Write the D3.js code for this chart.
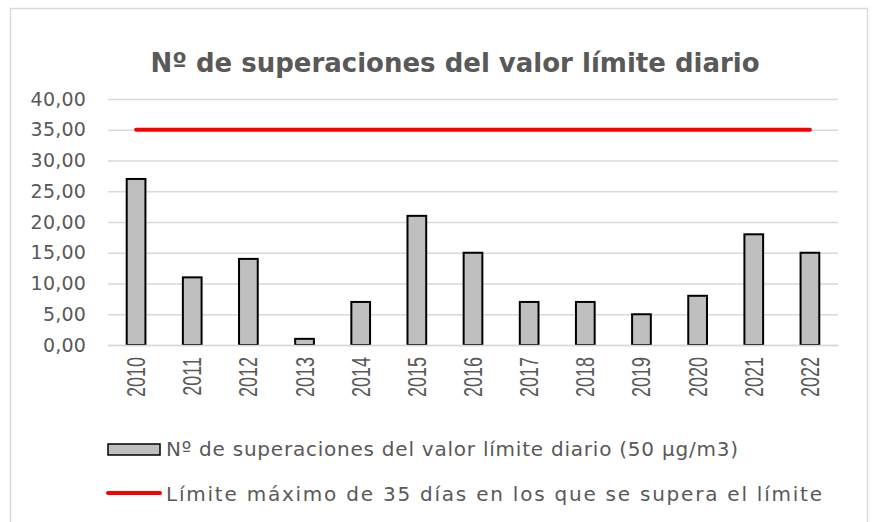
<!DOCTYPE html>
<html>
<head>
<meta charset="utf-8">
<script src="https://cdn.jsdelivr.net/npm/d3@7"></script>
<style>
  body { margin: 0; background: #fff; }
  svg { display: block; }
</style>
</head>
<body>
<svg width="872" height="522"></svg>
<script>
// datos
const years = ["2010", "2011", "2012", "2013", "2014", "2015", "2016", "2017", "2018", "2019", "2020", "2021", "2022"];
const superaciones = [27, 11, 14, 1, 7, 21, 15, 7, 7, 5, 8, 18, 15];
const limite = 35;
const yTicks = [0, 5, 10, 15, 20, 25, 30, 35, 40];
const titulo = "Nº de superaciones del valor límite diario";
const leyendaBarras = "Nº de superaciones del valor límite diario (50 µg/m3)";
const leyendaLinea = "Límite máximo de 35 días en los que se supera el límite";

const svg = d3.select("svg");
const textColor = "#595959";
const uiFont = "'DejaVu Sans', Verdana, sans-serif";

// marco del gráfico
svg.append("rect")
    .attr("x", 10.5).attr("y", 8.5)
    .attr("width", 857).attr("height", 530)
    .attr("fill", "#fff")
    .attr("stroke", "#d9d9d9")
    .attr("stroke-width", 1.5);

const plot = { left: 108, right: 838, top: 99, bottom: 345 };

const x = d3.scaleBand()
    .domain(years)
    .range([plot.left, plot.right])
    .paddingInner(2 / 3)
    .paddingOuter(1 / 3);

const y = d3.scaleLinear()
    .domain([0, 40])
    .range([plot.bottom, plot.top]);

// título
svg.append("text")
    .attr("x", 455).attr("y", 72)
    .attr("text-anchor", "middle")
    .style("font", `bold 26px ${uiFont}`)
    .attr("fill", textColor)
    .text(titulo);

// líneas de cuadrícula
const yAxis = d3.axisLeft(y)
    .tickValues(yTicks)
    .tickSize(-(plot.right - plot.left))
    .tickPadding(22)
    .tickFormat((d) => d3.format(".2f")(d).replace(".", ","));

svg.append("g")
    .attr("transform", `translate(${plot.left},0)`)
    .call(yAxis)
    .call((g) => g.select(".domain").remove())
    .call((g) => g.selectAll(".tick line").attr("stroke", "#d9d9d9").attr("stroke-width", 1.5))
    .call((g) => g.selectAll(".tick text")
        .attr("fill", textColor)
        .style("font", `19px ${uiFont}`)
        .style("letter-spacing", "0.2px"));

// barras
svg.append("g")
    .selectAll("rect")
    .data(superaciones)
    .join("rect")
    .attr("x", (d, i) => x(years[i]))
    .attr("y", (d) => y(d))
    .attr("width", x.bandwidth())
    .attr("height", (d) => y(0) - y(d))
    .attr("fill", "#bfbfbf")
    .attr("stroke", "#000")
    .attr("stroke-width", 2);

// eje x con años rotados (fuente estrecha)
const xAxis = d3.axisBottom(x).tickSize(0).tickPadding(0);
svg.append("g")
    .attr("transform", `translate(0,${plot.bottom})`)
    .call(xAxis)
    .call((g) => g.select(".domain").attr("stroke", "#d9d9d9").attr("stroke-width", 1.5))
    .call((g) => g.selectAll(".tick text")
        .attr("fill", textColor)
        .attr("font-size", 25)
        .attr("font-family", "'Liberation Sans', Arial, sans-serif")
        .attr("text-anchor", "end")
        .attr("dy", "0.36em")
        .attr("transform", "translate(0,12) rotate(-90) scale(0.72,1)"));

// línea de límite
const linea = d3.line()
    .x((d) => x(d) + x.bandwidth() / 2)
    .y(() => y(limite));

svg.append("path")
    .datum([years[0], years[years.length - 1]])
    .attr("d", linea)
    .attr("fill", "none")
    .attr("stroke", "#ff0000")
    .attr("stroke-width", 4)
    .attr("stroke-linecap", "round");

// leyenda
const legend = svg.append("g").style("font", `20px ${uiFont}`).attr("fill", textColor);

legend.append("rect")
    .attr("x", 108).attr("y", 444)
    .attr("width", 52).attr("height", 11)
    .attr("fill", "#bfbfbf")
    .attr("stroke", "#000")
    .attr("stroke-width", 1.5);
legend.append("text")
    .attr("x", 166).attr("y", 456)
    .attr("textLength", 572)
    .attr("lengthAdjust", "spacing")
    .text(leyendaBarras);

legend.append("line")
    .attr("x1", 108).attr("x2", 160)
    .attr("y1", 493).attr("y2", 493)
    .attr("stroke", "#ff0000")
    .attr("stroke-width", 4)
    .attr("stroke-linecap", "round");
legend.append("text")
    .attr("x", 166).attr("y", 501)
    .attr("textLength", 656)
    .attr("lengthAdjust", "spacing")
    .text(leyendaLinea);
</script>
</body>
</html>
